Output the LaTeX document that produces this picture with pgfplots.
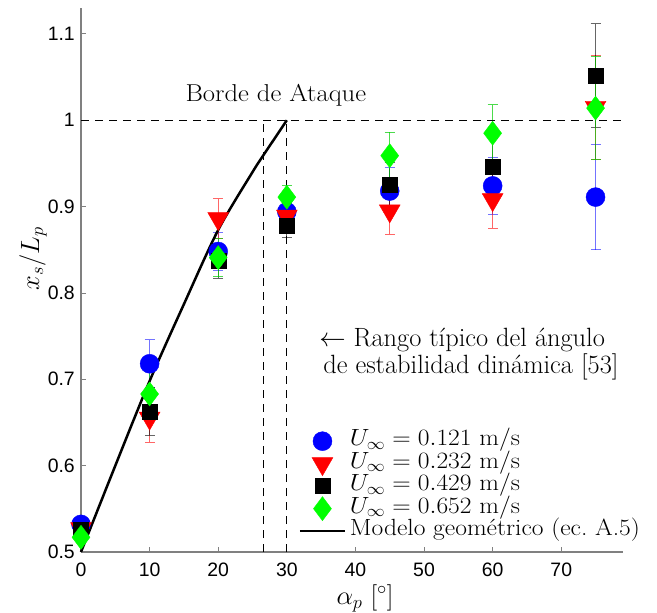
\RequirePackage{fix-cm}
\documentclass[border=0pt]{standalone}
\usepackage{graphicx}
\usepackage{pgfplots}
\pgfplotsset{compat=1.18}
\usepackage{fontspec}
\newfontfamily\tickfont{Liberation Sans}
\newcommand\bigfont{\fontsize{26.5}{30}\selectfont}
\newcommand\legfont{\fontsize{23.5}{26}\selectfont}
\newcommand\legtxt[1]{\scalebox{1.09}[1]{#1}}
\begin{document}
\begin{tikzpicture}
\begin{axis}[
 scale only axis, width=542bp, height=544bp,
 xmin=0, xmax=79, ymin=0.5, ymax=1.13,
 clip=false,
 axis lines*=left,
 axis line style={black!50, line width=1.2bp, -},
 xtick={0,10,20,30,40,50,60,70}, xticklabels={0,10,20,30,40,50,60,70},
 ytick={0.5,0.6,0.7,0.8,0.9,1,1.1}, yticklabels={0.5,0.6,0.7,0.8,0.9,1,1.1},
 tick align=inside, major tick length=5bp, tick style={black!50, line width=0.8bp},
 ticklabel style={font=\tickfont\fontsize{19.5}{20}\selectfont, inner sep=0pt},
 xticklabel style={yshift=-10.5bp}, yticklabel style={xshift=-6bp},
 xlabel={$\alpha_p$ [$^\circ$]}, ylabel={$x_s/L_p$},
 xlabel style={at={(axis description cs:0.524,-0.0846)}, anchor=center, font=\bigfont},
 ylabel style={at={(axis description cs:-0.0886,0.539)}, anchor=center, font=\bigfont},
 legend image code/.code={\path[draw=none, fill=none, use as bounding box] (0bp,-6bp) rectangle (45bp,6bp);
   \draw[mark repeat=2,mark phase=2,#1] plot coordinates {(0bp,0bp) (22.5bp,0bp) (45bp,0bp)};},
 legend style={at={(0.404,0.223)}, anchor=north west, draw=none, fill=none,
   inner sep=0pt, outer sep=0pt, font=\legfont, row sep=1.5bp, column sep=5bp,
   nodes={inner sep=0pt, text height=15bp, text depth=6bp}},
 legend cell align=left,
]
% U = 0.121 m/s
\addplot[only marks, mark=*, mark size=9.5bp, color=blue, mark options={draw=blue, fill=blue},
  error bars/.cd, y dir=both, y explicit,
  error bar style={blue, opacity=0.55, line width=1bp},
  error mark options={blue, opacity=0.55, mark size=5bp, line width=1bp, rotate=90}]
  table[x=x, y=y, y error=e] {
x y e
0 0.532 0.005
10 0.718 0.028
20 0.848 0.022
30 0.894 0.011
45 0.918 0.027
60 0.924 0.033
75 0.911 0.061
};
% U = 0.232 m/s
\addplot[only marks, mark=triangle*, mark size=12bp, color=red, mark options={draw=red, fill=red, rotate=180},
  error bars/.cd, y dir=both, y explicit,
  error bar style={red, opacity=0.6, line width=1bp},
  error mark options={red, opacity=0.6, mark size=5bp, line width=1bp, rotate=90}]
  table[x=x, y=y, y error=e] {
x y e
0 0.527 0.005
10 0.655 0.028
20 0.886 0.023
30 0.889 0.015
45 0.895 0.027
60 0.908 0.033
75 1.015 0.060
};
% U = 0.429 m/s
\addplot[only marks, mark=square*, mark size=7.5bp, color=black, mark options={draw=black, fill=black},
  error bars/.cd, y dir=both, y explicit,
  error bar style={black, opacity=0.6, line width=1bp},
  error mark options={black, opacity=0.6, mark size=5bp, line width=1bp, rotate=90}]
  table[x=x, y=y, y error=e] {
x y e
0 0.526 0.004
10 0.663 0.028
20 0.837 0.020
30 0.878 0.014
45 0.925 0.026
60 0.946 0.033
75 1.052 0.060
};
% U = 0.652 m/s
\addplot[only marks, mark=diamond*, mark size=12bp, color=green, mark options={draw=green, fill=green},
  error bars/.cd, y dir=both, y explicit,
  error bar style={green!80!black, opacity=0.7, line width=1bp},
  error mark options={green!80!black, opacity=0.7, mark size=5bp, line width=1bp, rotate=90}]
  table[x=x, y=y, y error=e] {
x y e
0 0.517 0.006
10 0.683 0.028
20 0.841 0.022
30 0.911 0.013
45 0.959 0.027
60 0.985 0.033
75 1.014 0.060
};
% geometric model
\addplot[black, line width=2.5bp, smooth, no marks] coordinates {
(0,0.5) (5,0.600) (10,0.698) (15,0.787) (20,0.873) (25,0.940) (26.8,0.962) (30,1.0)
};
\legend{\legtxt{$U_\infty = 0.121$ m/s}, \legtxt{$U_\infty = 0.232$ m/s}, \legtxt{$U_\infty = 0.429$ m/s}, \legtxt{$U_\infty = 0.652$ m/s}, \legtxt{Modelo geom\'etrico (ec.\ A.5)}}
% dashed reference lines
\addplot[black, line width=0.9bp, dash pattern=on 8bp off 6bp, forget plot] coordinates {(0,1) (79,1)};
\addplot[black, line width=0.9bp, dash pattern=on 8bp off 6bp, forget plot] coordinates {(26.57,0.5) (26.57,1)};
\addplot[black, line width=0.9bp, dash pattern=on 8bp off 6bp, forget plot] coordinates {(30,0.5) (30,1)};
\node[anchor=base, font=\fontsize{24.5}{28}\selectfont, inner sep=0pt] at (axis cs:28.4,1.022) {\legtxt{Borde de Ataque}};
\node[anchor=base west, font=\bigfont, inner sep=0pt] at (axis cs:34.7,0.7376) {$\leftarrow$ Rango típico del ángulo};
\node[anchor=base west, font=\bigfont, inner sep=0pt] at (axis cs:35.3,0.707) {de estabilidad dinámica [53]};
\end{axis}
\pgfresetboundingbox
\path (-81bp,-61bp) rectangle (576bp,552bp);
\end{tikzpicture}
\end{document}
